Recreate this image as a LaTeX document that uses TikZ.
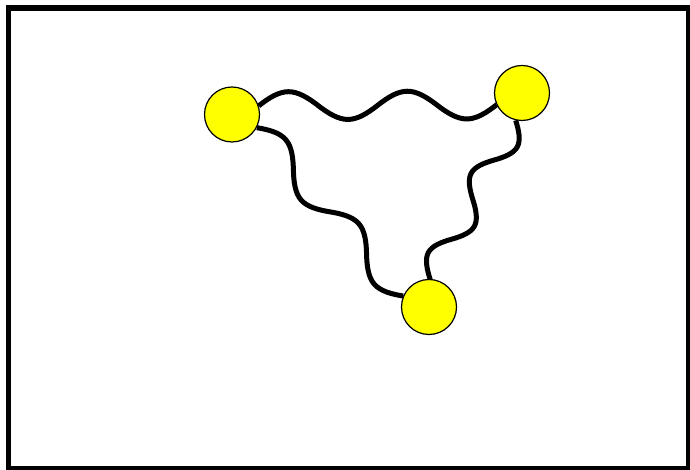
\documentclass[tikz,border=0pt]{standalone}
\usetikzlibrary{decorations,backgrounds}
\definecolor{geel}{RGB}{255,255,0}
%golf: twee volle perioden over de hele lijn
\pgfdeclaredecoration{golf}{up}{
  \state{up}[width=0.25*\pgfdecoratedpathlength, next state=down,
             switch if less than=0.125*\pgfdecoratedpathlength to final]{
    \pgfpathcurveto{\pgfpoint{0.041667*\pgfdecoratedpathlength}{0.55*\pgfdecorationsegmentamplitude}}
                   {\pgfpoint{0.083333*\pgfdecoratedpathlength}{\pgfdecorationsegmentamplitude}}
                   {\pgfpoint{0.125*\pgfdecoratedpathlength}{\pgfdecorationsegmentamplitude}}
    \pgfpathcurveto{\pgfpoint{0.166667*\pgfdecoratedpathlength}{\pgfdecorationsegmentamplitude}}
                   {\pgfpoint{0.208333*\pgfdecoratedpathlength}{0.55*\pgfdecorationsegmentamplitude}}
                   {\pgfpoint{0.25*\pgfdecoratedpathlength}{0pt}}
  }
  \state{down}[width=0.25*\pgfdecoratedpathlength, next state=up,
               switch if less than=0.125*\pgfdecoratedpathlength to final]{
    \pgfpathcurveto{\pgfpoint{0.041667*\pgfdecoratedpathlength}{-0.55*\pgfdecorationsegmentamplitude}}
                   {\pgfpoint{0.083333*\pgfdecoratedpathlength}{-1*\pgfdecorationsegmentamplitude}}
                   {\pgfpoint{0.125*\pgfdecoratedpathlength}{-1*\pgfdecorationsegmentamplitude}}
    \pgfpathcurveto{\pgfpoint{0.166667*\pgfdecoratedpathlength}{-1*\pgfdecorationsegmentamplitude}}
                   {\pgfpoint{0.208333*\pgfdecoratedpathlength}{-0.55*\pgfdecorationsegmentamplitude}}
                   {\pgfpoint{0.25*\pgfdecoratedpathlength}{0pt}}
  }
  \state{final}{\pgfpathlineto{\pgfpointdecoratedpathlast}}
}
\tikzstyle{dot} = [circle, draw, fill=geel, line width=1.2pt, minimum size=55pt, inner sep=0pt]
\tikzstyle{wave} = [line width=5pt, decorate, decoration={golf, amplitude=14pt}]
\tikzstyle{frame} = [line width=5.5pt]
\begin{document}
\begin{tikzpicture}[x=1pt, y=1pt]
\useasboundingbox (0,0) rectangle (690,470);
%kader
\draw[frame] (8.5,1) rectangle (688.5,462);
%begin knopen
\node[dot] (a) at (232,355.5) {};
\node[dot] (b) at (522,377) {};
\node[dot] (c) at (429,163) {};
%end knopen
%begin lijnen
\begin{scope}[on background layer]
    \draw[wave] (a.18) -- (b.205);
    \draw[wave] (a.332) -- (c.157);
    \draw[wave] (b.257) -- (c.88);
\end{scope}
%end lijnen
\end{tikzpicture}
\end{document}
